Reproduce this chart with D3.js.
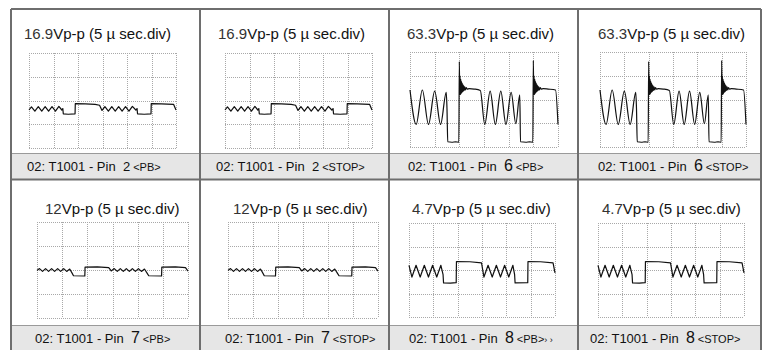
<!DOCTYPE html>
<html>
<head>
<meta charset="utf-8">
<script src="https://cdn.jsdelivr.net/npm/d3@7"></script>
<style>
  body { margin: 0; background: #fff; }
  svg { display: block; }
  text { font-family: "Liberation Sans", Arial, sans-serif; }
</style>
</head>
<body>
<div id="chart"></div>
<script>
// scope captures, values in divisions (x: 0..6, y: 0..4 from the bottom)
const titleValues = ["16.9", "16.9", "63.3", "63.3", "12", "12", "4.7", "4.7"];
const titleUnit = "Vp-p (5 \u00b5 sec.div)";
const pins = ["2", "2", "6", "6", "7", "7", "8", "8"];
const modes = ["<PB>", "<STOP>", "<PB>", "<STOP>", "<PB>", "<STOP>", "<PB>", "<STOP>"];
const xTicks = [0, 1, 2, 3, 4, 5, 6];
const yTicks = [0, 1, 2, 3, 4];

const pin2Trace = [
  [0,1.6],[0.1,1.73],[0.24,1.55],[0.38,1.74],[0.52,1.55],[0.66,1.74],[0.8,1.55],[0.94,1.74],
  [1.08,1.55],[1.22,1.75],[1.34,1.6],[1.38,1.66],[1.4,1.44],[1.6,1.42],[1.88,1.44],[1.89,1.87],
  [2.3,1.86],[2.7,1.84],[2.88,1.8],[2.98,1.58],[3.1,1.74],[3.24,1.55],[3.38,1.74],[3.52,1.55],
  [3.66,1.74],[3.8,1.55],[3.94,1.74],[4.08,1.55],[4.22,1.75],[4.36,1.6],[4.41,1.66],[4.43,1.44],
  [4.7,1.42],[4.98,1.44],[4.99,1.87],[5.4,1.86],[5.9,1.84],[6.0,1.6]
];

const pin6Trace = [
  [0,2.4],[0.25,0.95],[0.5,2.4],[0.75,0.95],[1.0,2.35],[1.24,0.95],[1.47,2.3],[1.5,1.6],[1.53,0.22],
  [1.7,0.2],[1.85,0.22],[1.98,0.2],
  [2.0,3.6],[2.015,2.2],[2.03,3.0],[2.045,2.2],[2.06,2.85],[2.075,2.25],[2.09,2.75],[2.105,2.3],
  [2.12,2.68],[2.135,2.32],[2.15,2.62],[2.165,2.35],[2.18,2.57],[2.2,2.38],[2.22,2.53],[2.25,2.4],
  [2.28,2.5],[2.32,2.44],[2.4,2.46],[2.6,2.44],[2.85,2.38],
  [3.03,0.95],[3.25,2.35],[3.46,0.95],[3.68,2.35],[3.89,0.95],[4.1,2.3],[4.29,0.98],[4.45,2.2],
  [4.48,0.22],[4.7,0.2],[4.85,0.22],[4.98,0.2],
  [5.0,3.65],[5.015,2.2],[5.03,3.0],[5.045,2.2],[5.06,2.85],[5.075,2.25],[5.09,2.75],[5.105,2.3],
  [5.12,2.68],[5.135,2.32],[5.15,2.62],[5.165,2.35],[5.18,2.57],[5.2,2.38],[5.22,2.53],[5.25,2.4],
  [5.28,2.5],[5.32,2.44],[5.4,2.46],[5.6,2.44],[5.9,2.4],[6.0,0.95]
];

const pin7Trace = [
  [0,1.98],[0.1,2.06],[0.22,1.94],[0.34,2.06],[0.46,1.94],[0.58,2.06],[0.7,1.94],[0.82,2.06],
  [0.94,1.94],[1.06,2.06],[1.18,1.94],[1.3,2.04],[1.4,1.86],[1.45,1.76],[1.9,1.75],[1.91,2.12],
  [2.4,2.13],[2.85,2.1],[2.95,1.96],[3.07,2.06],[3.19,1.94],[3.31,2.06],[3.43,1.94],[3.55,2.06],
  [3.67,1.94],[3.79,2.06],[3.91,1.94],[4.03,2.06],[4.15,1.94],[4.27,2.04],[4.38,1.86],[4.44,1.76],
  [4.95,1.75],[4.96,2.12],[5.5,2.13],[5.9,2.1],[6.0,1.95]
];

const pin8Trace = [
  [0,2.2],[0.12,1.7],[0.29,2.2],[0.46,1.7],[0.63,2.2],[0.8,1.7],[0.97,2.2],[1.14,1.7],[1.31,2.2],
  [1.4,1.8],[1.42,1.45],[1.7,1.44],[1.94,1.46],[1.95,2.36],[2.5,2.35],[2.98,2.3],[3.08,1.7],
  [3.25,2.2],[3.42,1.7],[3.59,2.2],[3.76,1.7],[3.93,2.2],[4.1,1.7],[4.27,2.2],[4.34,1.8],
  [4.36,1.45],[4.88,1.46],[4.89,2.36],[5.4,2.35],[5.92,2.3],[6.0,1.88]
];

const traces = [pin2Trace, pin2Trace, pin6Trace, pin6Trace, pin7Trace, pin7Trace, pin8Trace, pin8Trace];

// layout
const width = 762, height = 350;
const colX = [11, 200, 389, 578], rightEdge = 761;
const rowTop = [9, 180], capTop = [153, 325], rowBottom = [179, 356];
// grid boxes [x0, x1, y0, y1]
const grids = [
  [29,176,53,148], [225,372,53,148], [410,558,52,147], [600,746,52,147],
  [37,188,222,318], [228,378,222,318], [409,555,223,317], [598,744,223,317]
];
const titlePos = [[24,39],[218,39],[407,39],[598,39],[45,214],[233,214],[412,214],[602,214]];
const capX = [27, 216, 408, 598, 35, 225, 409, 590];

const svg = d3.select("#chart").append("svg")
  .attr("width", width)
  .attr("height", height);

svg.append("rect").attr("width", width).attr("height", height).attr("fill", "#fff");

traces.forEach(function(trace, i) {
  const col = i % 4, row = Math.floor(i / 4);
  const cx0 = colX[col], cx1 = col < 3 ? colX[col + 1] : rightEdge;
  const g = grids[i];

  // caption band
  svg.append("rect")
    .attr("x", cx0).attr("y", capTop[row])
    .attr("width", cx1 - cx0).attr("height", rowBottom[row] - capTop[row])
    .attr("fill", "#e6e6e6");
  svg.append("line")
    .attr("x1", cx0).attr("x2", cx1)
    .attr("y1", capTop[row] + 0.5).attr("y2", capTop[row] + 0.5)
    .attr("stroke", "#9a9a9a");

  const x = d3.scaleLinear().domain([0, 6]).range([g[0], g[1]]);
  const y = d3.scaleLinear().domain([0, 4]).range([g[3], g[2]]);

  const grid = svg.append("g")
    .attr("stroke", "#a8a8a8")
    .attr("stroke-width", 1)
    .attr("stroke-dasharray", "1,1");
  grid.selectAll(".v").data(xTicks).enter().append("line")
    .attr("x1", d => Math.round(x(d)) + 0.5).attr("x2", d => Math.round(x(d)) + 0.5)
    .attr("y1", y(4)).attr("y2", y(0));
  grid.selectAll(".h").data(yTicks).enter().append("line")
    .attr("x1", x(0)).attr("x2", x(6))
    .attr("y1", d => Math.round(y(d)) + 0.5).attr("y2", d => Math.round(y(d)) + 0.5);

  const line = d3.line()
    .x(d => x(d[0]))
    .y(d => y(d[1]))
    .curve(trace === pin6Trace ? d3.curveMonotoneX : d3.curveLinear);

  svg.append("path")
    .datum(trace)
    .attr("fill", "none")
    .attr("stroke", "#111")
    .attr("stroke-width", 1.2)
    .attr("stroke-linejoin", "round")
    .attr("d", line);

  // title
  const t = svg.append("text")
    .attr("x", titlePos[i][0]).attr("y", titlePos[i][1])
    .attr("font-size", 15)
    .attr("fill", "#111");
  t.append("tspan").attr("fill", "#333").text(titleValues[i]);
  t.append("tspan").text(titleUnit);

  // caption
  const bigPin = pins[i] !== "2";
  const c = svg.append("text")
    .attr("x", capX[i]).attr("y", capTop[row] + 18)
    .attr("font-size", 13)
    .attr("fill", "#111");
  c.append("tspan").text("02: T1001 - Pin \u00a0");
  c.append("tspan").attr("font-size", bigPin ? 16 : 13).text(pins[i]);
  c.append("tspan").attr("font-size", 11).text(" " + modes[i]);
  if (i === 6) c.append("tspan").attr("font-size", 9).text("\u203a \u203a");
});

// cell borders
const borders = svg.append("g").attr("stroke", "#6e6e6e").attr("stroke-width", 2);
colX.concat([rightEdge]).forEach(function(xv) {
  borders.append("line").attr("x1", xv).attr("x2", xv).attr("y1", rowTop[0]).attr("y2", height);
});
[rowTop[0], rowBottom[0] + 0.5].forEach(function(yv) {
  borders.append("line").attr("x1", colX[0]).attr("x2", rightEdge).attr("y1", yv).attr("y2", yv);
});
</script>
</body>
</html>
